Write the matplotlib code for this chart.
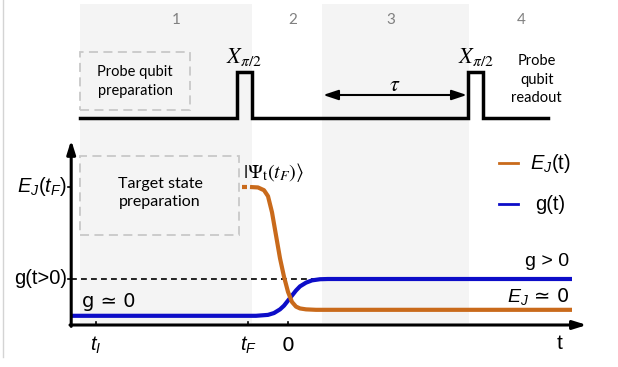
import matplotlib
matplotlib.use("Agg")
import matplotlib.pyplot as plt
from matplotlib.patches import Rectangle

plt.rcParams['mathtext.fontset'] = 'custom'
plt.rcParams['mathtext.rm'] = 'Liberation Sans'
plt.rcParams['mathtext.it'] = 'Liberation Sans:italic'
plt.rcParams['mathtext.bf'] = 'Liberation Sans:bold'

# ---------------- data (time in units where t_F = -1, 0 at 0) ----------------
t_I, t_F, t_0 = -4.8, -1.0, 0.0
tick_pos = [t_I, t_F, t_0]
tick_labels = [r'$t_I$', r'$t_F$', '0']

EJ_high, g_high = 3.0, 1.0

# E_J(t) schematic
ej_t = [-0.95, -0.75, -0.6, -0.5, -0.4, -0.3, -0.2, -0.1, 0.0, 0.1, 0.2, 0.3, 0.45, 0.7, 7.1]
ej_v = [3.0, 2.99, 2.93, 2.8, 2.45, 1.95, 1.45, 1.05, 0.72, 0.5, 0.4, 0.36, 0.34, 0.33, 0.33]
ej_dot_t = [-1.15, -0.95]
ej_dot_v = [3.0, 3.0]

# g(t) schematic
g_t = [-5.42, -0.8, -0.5, -0.35, -0.2, -0.1, 0.0, 0.1, 0.2, 0.3, 0.45, 0.6, 0.8, 1.0, 7.1]
g_v = [0.2, 0.2, 0.22, 0.26, 0.34, 0.42, 0.53, 0.64, 0.75, 0.84, 0.92, 0.97, 0.995, 1.0, 1.0]

# pulse sequence (top)
pulse_t = [-5.2, -1.27, -1.27, -0.91, -0.91, 4.49, 4.49, 4.88, 4.88, 6.5]
pulse_v = [4.5, 4.5, 5.5, 5.5, 4.5, 4.5, 5.5, 5.5, 4.5, 4.5]

# shaded stages
band_start = [-5.2, 0.85]
band_end = [-0.89, 4.52]
stage_labels = ['1', '2', '3', '4']
stage_pos = [-2.8, 0.125, 2.575, 5.825]

ORANGE = '#C96A1B'
BLUE = '#0D0DC8'

fig = plt.figure(figsize=(6.18, 3.67), dpi=100)
ax = fig.add_axes([0, 0, 1, 1])
ax.set_xlim(-7.2, 8.25)
ax.set_ylim(-0.913, 7.065)
ax.axis('off')

# faint left border
ax.plot([-7.125, -7.125], [-0.7, 7.065], color='#d4d4d4', lw=1)

# bands
for s, e in zip(band_start, band_end):
    ax.add_patch(Rectangle((s, 0.04), e - s, 6.94, facecolor='#f4f4f4', edgecolor='none', zorder=0))

for lab, p in zip(stage_labels, stage_pos):
    ax.text(p, 6.63, lab, ha='center', va='center', fontsize=11, color='#808080', family='Lato')

# dashed boxes
ax.add_patch(Rectangle((-5.2, 4.67), 2.75, 1.26, facecolor='none', edgecolor='#c8c8c8',
                       lw=1.3, ls=(0, (5, 3)), zorder=1))
ax.text(-3.82, 5.3, 'Probe qubit\npreparation', ha='center', va='center', fontsize=10.5,
        family='Lato', linespacing=1.45)
ax.add_patch(Rectangle((-5.2, 1.96), 3.975, 1.71, facecolor='none', edgecolor='#c8c8c8',
                       lw=1.3, ls=(0, (5, 3)), zorder=1))
ax.text(-3.2, 2.87, 'Target state\npreparation', ha='center', va='center', fontsize=11.5,
        family='Lato', linespacing=1.45)

# pulse sequence
ax.plot(pulse_t, pulse_v, color='black', lw=2.5, solid_joinstyle='miter', zorder=3)
ax.text(-1.09, 5.58, r'$X_{\pi/2}$', ha='center', va='bottom', fontsize=16, math_fontfamily='stix')
ax.text(4.7, 5.58, r'$X_{\pi/2}$', ha='center', va='bottom', fontsize=16, math_fontfamily='stix')
ax.text(6.22, 5.33, 'Probe\nqubit\nreadout', ha='center', va='center', fontsize=10.5,
        family='Lato', linespacing=1.4)

# tau arrow
ax.annotate('', xy=(4.47, 5.0), xytext=(0.88, 5.0),
            arrowprops=dict(arrowstyle='<|-|>,head_length=0.9,head_width=0.3', color='black', lw=1.5,
                            shrinkA=0, shrinkB=0))
ax.text(2.68, 5.0, r'$\tau$', ha='center', va='bottom', fontsize=16, math_fontfamily='stix')

# axes arrows
ax.annotate('', xy=(-5.42, 4.02), xytext=(-5.42, -0.03),
            arrowprops=dict(arrowstyle='-|>,head_length=0.8,head_width=0.25', color='black', lw=2.2,
                            shrinkA=0, shrinkB=0), zorder=4)
ax.annotate('', xy=(7.47, 0.0), xytext=(-5.45, 0.0),
            arrowprops=dict(arrowstyle='-|>,head_length=0.8,head_width=0.25', color='black', lw=2.2,
                            shrinkA=0, shrinkB=0), zorder=4)

# ticks
for p, lab in zip(tick_pos, tick_labels):
    ax.plot([p, p], [0, 0.07], color='black', lw=1.2, zorder=4)
    ax.text(p, -0.45, lab, ha='center', va='center', fontsize=14.5)
ax.text(6.8, -0.4, 't', ha='center', va='center', fontsize=15, family='Liberation Sans')

# y labels
ax.plot([-5.5, -5.42], [EJ_high, EJ_high], color='black', lw=1.2)
ax.plot([-5.5, -5.42], [g_high, g_high], color='black', lw=1.2)
ax.text(-5.52, EJ_high, r'$E_J(t_F)$', ha='right', va='center', fontsize=14.5)
ax.text(-5.52, g_high, 'g(t>0)', ha='right', va='center', fontsize=14.5, family='Liberation Sans')

# dashed reference
ax.plot([-5.42, 1.0], [g_high, g_high], color='black', lw=1.2, ls=(0, (3.5, 2.5)), zorder=2)

# curves
ax.plot(g_t, g_v, color=BLUE, lw=3, solid_capstyle='butt', zorder=3)
ax.plot(ej_t, ej_v, color=ORANGE, lw=3, solid_capstyle='butt', zorder=3)
ax.plot(ej_dot_t, ej_dot_v, color=ORANGE, lw=3, ls=(0, (1.2, 0.8)), zorder=3)

ax.text(-1.125, 3.32, r'$|\Psi_{\mathrm{t}}(t_F)\rangle$', ha='left', va='center', fontsize=14.5,
        math_fontfamily='stix')
ax.text(-5.15, 0.52, 'g ≃ 0', ha='left', va='center', fontsize=14, family='DejaVu Sans')
ax.text(7.02, 1.39, 'g > 0', ha='right', va='center', fontsize=14, family='Liberation Sans')
ax.text(7.02, 0.61, r'$E_J$ ≃ 0', ha='right', va='center', fontsize=14, family='DejaVu Sans')

# legend
ax.plot([5.275, 5.75], [3.52, 3.52], color=ORANGE, lw=2)
ax.text(6.05, 3.52, r'$E_J$(t)', ha='left', va='center', fontsize=14.5, family='Liberation Sans')
ax.plot([5.275, 5.75], [2.63, 2.63], color=BLUE, lw=2)
ax.text(6.18, 2.63, 'g(t)', ha='left', va='center', fontsize=14.5, family='Liberation Sans')

fig.savefig('out.png', dpi=100)
